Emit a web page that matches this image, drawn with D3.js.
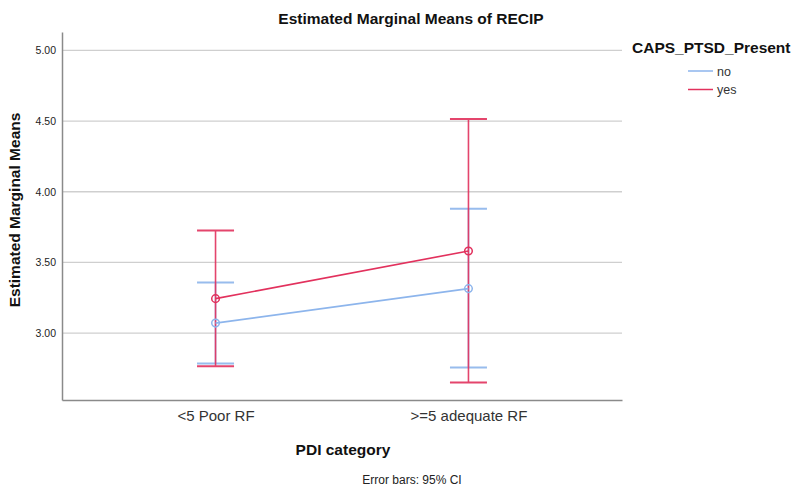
<!DOCTYPE html>
<html>
  <head>
    <meta charset="utf-8" />
    <style>
      body { margin: 0; background: #fff; }
      text { font-family: Arial, "Liberation Sans", sans-serif; }
    </style>
  </head>
  <body>

<svg id="graph"></svg>

<script src="https://cdn.jsdelivr.net/npm/d3@7"></script>
<script>
  const WIDTH = 798;
  const HEIGHT = 487;

  // data
  const CATEGORIES = ['<5 Poor RF', '>=5 adequate RF'];
  const GROUPS = ['no', 'yes'];
  const COLORS = ['#8db5ec', '#e2315d'];
  const MEANS_NO = [3.071, 3.315];
  const MEANS_YES = [3.244, 3.581];
  const LOWER_NO = [2.785, 2.757];
  const UPPER_NO = [3.359, 3.879];
  const LOWER_YES = [2.766, 2.651];
  const UPPER_YES = [3.726, 4.515];
  const Y_TICKS = [3.0, 3.5, 4.0, 4.5, 5.0];

  const series = [
    { name: GROUPS[0], color: COLORS[0], mean: MEANS_NO, lo: LOWER_NO, hi: UPPER_NO },
    { name: GROUPS[1], color: COLORS[1], mean: MEANS_YES, lo: LOWER_YES, hi: UPPER_YES },
  ];

  const M = { left: 62, right: 622, top: 32, bottom: 400 };
  const CAP = 18.5;

  const svg = d3.select('#graph')
    .attr('width', WIDTH)
    .attr('height', HEIGHT);

  const x = d3.scalePoint()
    .domain(CATEGORIES)
    .range([M.left, M.right])
    .padding(0.607);

  const y = d3.scaleLinear()
    .domain([2.527, 5.13])
    .range([M.bottom, M.top]);

  // gridlines
  svg.append('g')
    .selectAll('line')
    .data(Y_TICKS)
    .enter()
    .append('line')
    .attr('x1', M.left)
    .attr('x2', M.right)
    .attr('y1', d => y(d))
    .attr('y2', d => y(d))
    .attr('stroke', '#cfcfcf')
    .attr('stroke-width', 1.3);

  // y axis
  const yAxis = svg.append('g')
    .attr('transform', `translate(${M.left},0)`)
    .call(d3.axisLeft(y).tickValues(Y_TICKS).tickFormat(d3.format('.2f')).tickSize(0).tickPadding(6));
  yAxis.select('.domain').attr('stroke', '#8a8a8a').attr('stroke-width', 1.5);
  yAxis.selectAll('text').attr('font-size', 10.5).attr('fill', '#222')
    .style('font-family', 'Arial, "Liberation Sans", sans-serif');

  // x axis
  const xAxis = svg.append('g')
    .attr('transform', `translate(0,${M.bottom})`)
    .call(d3.axisBottom(x).tickSize(0).tickPadding(10));
  xAxis.select('.domain').attr('stroke', '#8a8a8a').attr('stroke-width', 1.5);
  xAxis.selectAll('text').attr('font-size', 15).attr('fill', '#333')
    .style('font-family', 'Arial, "Liberation Sans", sans-serif');

  // error bars
  series.forEach(s => {
    const g = svg.append('g').attr('stroke', s.color).attr('stroke-width', 1.6).attr('opacity', 0.9);
    CATEGORIES.forEach((c, i) => {
      const cx = x(c);
      g.append('line').attr('x1', cx).attr('x2', cx).attr('y1', y(s.lo[i])).attr('y2', y(s.hi[i]));
      g.append('line').attr('x1', cx - CAP).attr('x2', cx + CAP).attr('y1', y(s.lo[i])).attr('y2', y(s.lo[i])).attr('stroke-width', 2);
      g.append('line').attr('x1', cx - CAP).attr('x2', cx + CAP).attr('y1', y(s.hi[i])).attr('y2', y(s.hi[i])).attr('stroke-width', 2);
    });
  });

  // mean lines and markers
  const line = d3.line()
    .x((d, i) => x(CATEGORIES[i]))
    .y(d => y(d));

  series.forEach(s => {
    svg.append('path')
      .attr('d', line(s.mean))
      .attr('fill', 'none')
      .attr('stroke', s.color)
      .attr('stroke-width', 1.6);
    svg.append('g')
      .selectAll('circle')
      .data(s.mean)
      .enter()
      .append('circle')
      .attr('cx', (d, i) => x(CATEGORIES[i]))
      .attr('cy', d => y(d))
      .attr('r', 3.8)
      .attr('fill', 'none')
      .attr('stroke', s.color)
      .attr('stroke-width', 1.5);
  });

  // titles
  svg.append('text')
    .attr('x', 411).attr('y', 24)
    .attr('text-anchor', 'middle')
    .attr('font-size', 15.5).attr('font-weight', 'bold').attr('fill', '#111')
    .text('Estimated Marginal Means of RECIP');

  svg.append('text')
    .attr('transform', 'translate(20,210) rotate(-90)')
    .attr('text-anchor', 'middle')
    .attr('font-size', 15.5).attr('font-weight', 'bold').attr('fill', '#111')
    .text('Estimated Marginal Means');

  svg.append('text')
    .attr('x', 343).attr('y', 455)
    .attr('text-anchor', 'middle')
    .attr('font-size', 15.5).attr('font-weight', 'bold').attr('fill', '#111')
    .text('PDI category');

  svg.append('text')
    .attr('x', 412).attr('y', 484)
    .attr('text-anchor', 'middle')
    .attr('font-size', 12).attr('fill', '#222')
    .text('Error bars: 95% CI');

  // legend
  svg.append('text')
    .attr('x', 632).attr('y', 53)
    .attr('font-size', 15.5).attr('font-weight', 'bold').attr('fill', '#111')
    .text('CAPS_PTSD_Present');

  const legend = svg.append('g')
    .selectAll('g')
    .data(series)
    .enter()
    .append('g')
    .attr('transform', (d, i) => `translate(688,${71 + i * 18.5})`);
  legend.append('line')
    .attr('x1', 0).attr('x2', 25)
    .attr('stroke', d => d.color).attr('stroke-width', 1.5);
  legend.append('text')
    .attr('x', 29).attr('y', 4.5)
    .attr('font-size', 12.5).attr('fill', '#333')
    .text(d => d.name);
</script>
  </body>
</html>
